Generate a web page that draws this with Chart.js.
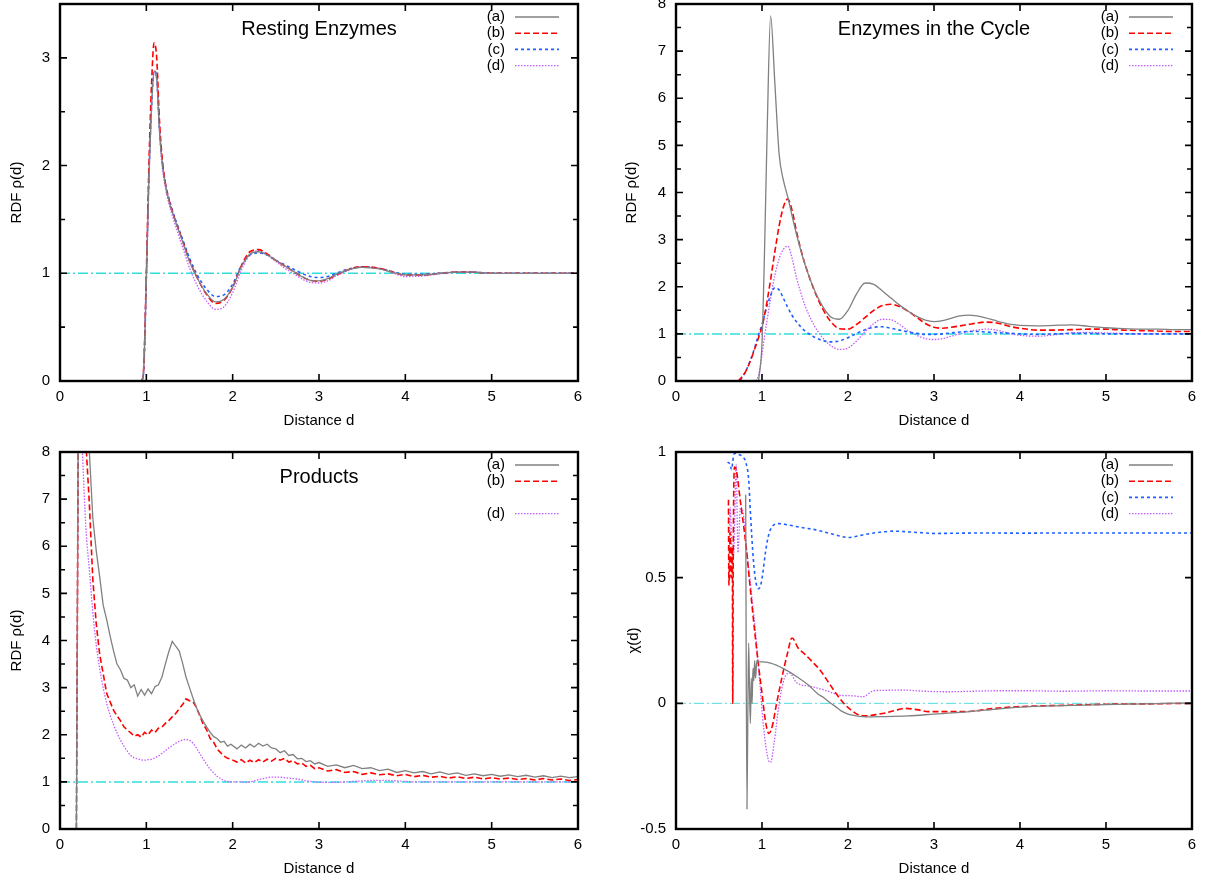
<!DOCTYPE html>
<html>
<head>
<meta charset="utf-8">
<script src="https://cdn.jsdelivr.net/npm/chart.js@4.4.1/dist/chart.umd.min.js"></script>
<style>
  body { margin: 0; background: #fff; }
  #wrap { position: relative; width: 1205px; height: 884px; }
  canvas { position: absolute; }
</style>
</head>
<body>
<div id="wrap">
  <canvas id="c1" width="602" height="442" style="left:0;top:0"></canvas>
  <canvas id="c2" width="603" height="442" style="left:602px;top:0"></canvas>
  <canvas id="c3" width="602" height="442" style="left:0;top:442px"></canvas>
  <canvas id="c4" width="603" height="442" style="left:602px;top:442px"></canvas>
</div>
<script>
// ---- data: resting enzymes (top left)
const restDist = [0.95, 0.97, 1.0, 1.03, 1.06, 1.09, 1.12, 1.15, 1.18, 1.22, 1.26, 1.3, 1.35, 1.4, 1.45, 1.5, 1.6, 1.7, 1.8, 1.9,
  2.0, 2.1, 2.2, 2.3, 2.4, 2.5, 2.6, 2.7, 2.8, 2.9, 3.0, 3.1, 3.2, 3.3, 3.4, 3.5, 3.6, 3.7, 3.8, 3.9,
  4.0, 4.2, 4.4, 4.6, 4.8, 5.0, 5.2, 5.4, 5.6, 5.8, 6.0];
const restA = [0, 0.12, 0.95, 1.9, 2.55, 2.88, 2.8, 2.35, 2.05, 1.82, 1.68, 1.57, 1.45, 1.34, 1.22, 1.11, 0.94, 0.81, 0.735, 0.76,
  0.87, 1.06, 1.18, 1.2, 1.17, 1.12, 1.07, 1.02, 0.97, 0.935, 0.93, 0.95, 0.99, 1.02, 1.045, 1.055, 1.05, 1.04, 1.02, 1.0,
  0.985, 0.985, 1.0, 1.01, 1.01, 1.0, 1.0, 1.0, 1.0, 1.0, 1.0];
const restB = [0, 0.13, 1.0, 2.0, 2.75, 3.14, 3.0, 2.45, 2.1, 1.84, 1.69, 1.58, 1.46, 1.35, 1.23, 1.12, 0.94, 0.8, 0.72, 0.75,
  0.87, 1.07, 1.2, 1.22, 1.18, 1.12, 1.07, 1.02, 0.97, 0.935, 0.925, 0.945, 0.985, 1.02, 1.05, 1.06, 1.055, 1.045, 1.025, 1.0,
  0.985, 0.985, 1.0, 1.012, 1.01, 1.0, 1.0, 1.0, 1.0, 1.0, 1.0];
const restC = [0, 0.1, 0.95, 1.9, 2.55, 2.88, 2.82, 2.38, 2.07, 1.84, 1.7, 1.59, 1.47, 1.36, 1.25, 1.14, 0.97, 0.85, 0.785, 0.8,
  0.9, 1.07, 1.17, 1.19, 1.17, 1.12, 1.08, 1.04, 1.0, 0.97, 0.96, 0.97, 1.0, 1.03, 1.05, 1.06, 1.055, 1.045, 1.025, 1.005,
  0.99, 0.99, 1.0, 1.01, 1.01, 1.0, 1.0, 1.0, 1.0, 1.0, 1.0];
const restD = [0, 0.1, 0.9, 1.85, 2.5, 2.85, 2.8, 2.35, 2.02, 1.8, 1.65, 1.54, 1.41, 1.29, 1.17, 1.05, 0.87, 0.74, 0.665, 0.69,
  0.82, 1.03, 1.17, 1.21, 1.17, 1.11, 1.05, 1.0, 0.95, 0.915, 0.91, 0.93, 0.975, 1.015, 1.045, 1.06, 1.06, 1.045, 1.02, 0.99,
  0.97, 0.975, 0.995, 1.01, 1.01, 1.0, 1.0, 1.0, 1.0, 1.0, 1.0];

// ---- data: enzymes in the cycle (top right)
const cycleDist = [0.72, 0.75, 0.8, 0.85, 0.9, 0.93, 0.96, 1.0, 1.03, 1.06, 1.1, 1.15, 1.2, 1.25, 1.3, 1.35, 1.4, 1.45, 1.5, 1.6,
  1.7, 1.8, 1.9, 2.0, 2.1, 2.2, 2.3, 2.4, 2.5, 2.6, 2.7, 2.8, 2.9, 3.0, 3.1, 3.2, 3.3, 3.4, 3.5, 3.6,
  3.7, 3.8, 3.9, 4.0, 4.2, 4.4, 4.6, 4.8, 5.0, 5.2, 5.4, 5.6, 5.8, 6.0];
const cycleA = [null, null, null, null, null, null, 0, 0.8, 2.8, 5.3, 7.75, 6.3, 4.8, 4.25, 3.9, 3.5, 3.12, 2.78, 2.47, 1.97,
  1.6, 1.36, 1.31, 1.5, 1.85, 2.08, 2.05, 1.91, 1.76, 1.61, 1.48, 1.37, 1.29, 1.26, 1.28, 1.33, 1.38, 1.4, 1.38, 1.34,
  1.29, 1.24, 1.2, 1.18, 1.17, 1.18, 1.19, 1.16, 1.13, 1.11, 1.1, 1.1, 1.09, 1.09];
const cycleB = [0, 0.05, 0.17, 0.36, 0.6, 0.76, 0.92, 1.15, 1.4, 1.7, 2.15, 2.75, 3.3, 3.7, 3.86, 3.62, 3.18, 2.8, 2.48, 1.96,
  1.55, 1.26, 1.11, 1.1, 1.2, 1.35, 1.5, 1.6, 1.63, 1.58, 1.48, 1.35, 1.22, 1.14, 1.12, 1.14, 1.17, 1.2, 1.23, 1.25,
  1.24, 1.2, 1.15, 1.12, 1.08, 1.08, 1.09, 1.1, 1.1, 1.08, 1.07, 1.06, 1.05, 1.05];
const cycleC = [null, 0.02, 0.17, 0.37, 0.62, 0.8, 0.98, 1.2, 1.4, 1.6, 1.82, 1.98, 1.93, 1.75, 1.56, 1.39, 1.26, 1.15, 1.06, 0.94,
  0.86, 0.83, 0.85, 0.92, 1.01, 1.09, 1.14, 1.15, 1.12, 1.08, 1.04, 1.01, 0.99, 0.99, 1.0, 1.02, 1.04, 1.05, 1.05, 1.04,
  1.03, 1.02, 1.01, 1.0, 0.99, 1.0, 1.01, 1.01, 1.0, 1.0, 1.0, 1.0, 1.0, 1.0];
const cycleD = [null, null, null, null, null, 0, 0.12, 0.55, 0.95, 1.3, 1.75, 2.25, 2.6, 2.8, 2.86, 2.6, 2.2, 1.88, 1.6, 1.2,
  0.93, 0.75, 0.67, 0.7, 0.85, 1.05, 1.22, 1.31, 1.3, 1.2, 1.07, 0.97, 0.9, 0.88, 0.9, 0.95, 1.0, 1.05, 1.08, 1.1,
  1.09, 1.05, 1.0, 0.97, 0.95, 0.98, 1.02, 1.03, 1.02, 1.01, 1.0, 1.0, 1.0, 1.0];

// ---- data: products (bottom left)
const prodDist = [0.19, 0.2, 0.22, 0.26,
  0.3, 0.34, 0.38, 0.42, 0.46, 0.5, 0.54, 0.58, 0.62, 0.66, 0.7, 0.74, 0.78, 0.82, 0.86, 0.9, 0.94, 0.98,
  1.02, 1.06, 1.1, 1.14, 1.18, 1.22, 1.26, 1.3, 1.34, 1.38, 1.42, 1.46, 1.5, 1.54, 1.58, 1.62, 1.66, 1.7,
  1.74, 1.78, 1.82, 1.86, 1.9, 1.94, 1.98,
  2.05, 2.1, 2.15, 2.2, 2.25, 2.3, 2.35, 2.4, 2.45, 2.5, 2.55, 2.6, 2.65, 2.7, 2.75, 2.8, 2.85, 2.9, 2.95, 3.0,
  3.1, 3.2, 3.3, 3.4, 3.5, 3.6, 3.7, 3.8, 3.9, 4.0, 4.1, 4.2, 4.3, 4.4, 4.5, 4.6, 4.7, 4.8, 4.9, 5.0,
  5.1, 5.2, 5.3, 5.4, 5.5, 5.6, 5.7, 5.8, 5.9, 6.0];
const prodA = [0, 4, 12, 12,
  11, 8.0, 6.6, 5.9, 5.35, 4.75, 4.45, 4.1, 3.78, 3.5, 3.38, 3.2, 3.16, 3.0, 3.06, 2.82, 2.96, 2.84,
  2.97, 2.87, 3.02, 3.06, 3.22, 3.5, 3.76, 3.98, 3.88, 3.78, 3.52, 3.22, 3.0, 2.78, 2.58, 2.42, 2.28, 2.16,
  2.05, 1.96, 1.92, 1.84, 1.86, 1.76, 1.8,
  1.7, 1.78, 1.72, 1.8, 1.74, 1.82, 1.76, 1.8, 1.72, 1.7, 1.62, 1.66, 1.56, 1.58, 1.49, 1.5, 1.43, 1.45, 1.38, 1.41,
  1.33, 1.36, 1.3, 1.35, 1.28, 1.3, 1.24, 1.27, 1.2, 1.24, 1.19, 1.22, 1.17, 1.21, 1.16, 1.19, 1.14, 1.17, 1.13, 1.16,
  1.12, 1.15, 1.11, 1.14, 1.1, 1.13, 1.09, 1.12, 1.09, 1.11];
const prodB = [0, 4, 12, 12,
  8.2, 6.9, 5.3, 4.35, 3.7, 3.3, 2.88, 2.7, 2.52, 2.4, 2.3, 2.17, 2.1, 2.04, 1.97, 2.0, 1.95, 2.05,
  2.0, 2.1, 2.05, 2.14, 2.16, 2.24, 2.3, 2.38, 2.45, 2.55, 2.64, 2.76, 2.72, 2.7, 2.58, 2.4, 2.22, 2.1,
  1.92, 1.84, 1.7, 1.62, 1.55, 1.5, 1.48,
  1.42, 1.47, 1.4, 1.46, 1.41, 1.47, 1.42, 1.48, 1.44, 1.5, 1.46, 1.5, 1.42, 1.45, 1.38, 1.4, 1.33, 1.35, 1.28, 1.3,
  1.23, 1.26, 1.2, 1.22, 1.16, 1.19, 1.15, 1.17, 1.13, 1.16, 1.11, 1.14, 1.1, 1.12, 1.08, 1.11, 1.07, 1.1, 1.06, 1.09,
  1.06, 1.08, 1.05, 1.07, 1.04, 1.07, 1.04, 1.06, 1.03, 1.05];
const prodD = [0, 4, 10, 8.0,
  6.4, 5.5, 4.6, 3.9, 3.4, 3.0, 2.67, 2.42, 2.22, 2.04, 1.89, 1.76, 1.65, 1.56, 1.51, 1.49, 1.47, 1.46,
  1.47, 1.48, 1.51, 1.55, 1.6, 1.66, 1.72, 1.77, 1.82, 1.86, 1.89, 1.9, 1.88, 1.82, 1.72, 1.6, 1.48, 1.37,
  1.27, 1.19, 1.12, 1.07, 1.03, 1.01, 1.0,
  1.0, 1.0, 0.99, 1.0, 1.02, 1.05, 1.07, 1.09, 1.1, 1.1, 1.1, 1.09, 1.08, 1.07, 1.06, 1.04, 1.02, 1.01, 1.0, 0.99,
  0.99, 0.99, 1.0, 1.01, 1.02, 1.03, 1.03, 1.03, 1.02, 1.01, 1.0, 1.0, 1.0, 1.0, 1.0, 1.0, 1.0, 1.0, 1.0, 1.0,
  1.0, 1.0, 1.0, 1.0, 1.0, 1.0, 1.0, 1.0, 1.0, 1.0];

// ---- data: chi(d) (bottom right), each curve has its own sampling
const chiAx = [0.81, 0.825, 0.835, 0.845, 0.855, 0.865, 0.875, 0.885, 0.895, 0.905, 0.915, 0.925, 0.94, 0.96, 1.0, 1.1, 1.25, 1.41, 1.55, 1.64,
  1.72, 1.8, 1.86, 1.92, 2.0, 2.1, 2.2, 2.4, 2.7, 3.0, 3.3, 3.6, 4.0, 4.5, 5.0, 5.5, 6.0];
const chiAy = [0.83, -0.42, -0.05, 0.24, 0.05, -0.08, 0.1, 0.0, 0.14, 0.09, 0.17, 0.1, 0.17, 0.165, 0.165, 0.16, 0.138, 0.105, 0.07, 0.04,
  0.022, 0.0, -0.014, -0.03, -0.043, -0.05, -0.054, -0.053, -0.05, -0.043, -0.036, -0.027, -0.015, -0.009, -0.005, -0.002, 0.002];
const chiBx = [0.61, 0.615, 0.63, 0.64, 0.655, 0.66, 0.665, 0.68, 0.7, 0.75, 0.81, 0.86, 0.92, 0.96, 1.0, 1.04, 1.08, 1.12, 1.17, 1.23,
  1.29, 1.35, 1.42, 1.5, 1.6, 1.68, 1.78, 1.86, 1.95, 2.03, 2.12, 2.21, 2.32, 2.44, 2.55, 2.66, 2.8, 2.93, 3.1, 3.37,
  3.7, 4.0, 4.5, 4.94, 5.5, 6.0];
const chiBy = [0.81, 0.47, 0.68, 0.5, 0.62, 0.0, 0.55, 0.94, 0.93, 0.8, 0.64, 0.47, 0.27, 0.15, 0.04, -0.07, -0.12, -0.09, 0.0, 0.1,
  0.19, 0.26, 0.22, 0.195, 0.16, 0.13, 0.08, 0.04, 0.0, -0.025, -0.045, -0.05, -0.045, -0.038, -0.028, -0.02, -0.025, -0.033, -0.033, -0.033,
  -0.02, -0.013, -0.008, -0.004, -0.002, 0.0];
const chiCx = [0.6, 0.63, 0.645, 0.66, 0.67, 0.7, 0.73, 0.78, 0.81, 0.845, 0.865, 0.9, 0.93, 0.96, 0.985, 1.01, 1.04, 1.07, 1.12, 1.2,
  1.3, 1.45, 1.63, 1.8, 2.01, 2.17, 2.35, 2.53, 2.8, 3.02, 3.3, 3.6, 4.0, 4.5, 5.0, 5.5, 6.0];
const chiCy = [0.96, 0.95, 0.93, 0.96, 0.99, 0.995, 0.99, 0.98, 0.96, 0.89, 0.76, 0.57, 0.48, 0.456, 0.47, 0.52, 0.6, 0.66, 0.705, 0.715,
  0.71, 0.7, 0.69, 0.675, 0.66, 0.67, 0.68, 0.685, 0.68, 0.676, 0.677, 0.678, 0.677, 0.678, 0.678, 0.678, 0.678];
const chiDx = [0.62, 0.63, 0.65, 0.67, 0.7, 0.72, 0.75, 0.78, 0.82, 0.87, 0.92, 0.97, 1.02, 1.07, 1.1, 1.14, 1.2, 1.26, 1.32, 1.41,
  1.56, 1.75, 1.91, 2.05, 2.17, 2.3, 2.45, 2.62, 2.9, 3.15, 3.45, 3.73, 4.1, 4.5, 5.0, 5.5, 6.0];
const chiDy = [0.6, 0.78, 0.62, 0.59, 0.95, 0.6, 0.78, 0.76, 0.62, 0.46, 0.3, 0.1, -0.1, -0.22, -0.235, -0.16, 0.0, 0.1, 0.12, 0.08,
  0.068, 0.05, 0.032, 0.03, 0.026, 0.05, 0.052, 0.053, 0.048, 0.046, 0.048, 0.05, 0.05, 0.048, 0.05, 0.049, 0.049];

// reference lines
const refX = [0, 6];
const refOne = [1, 1];
const refZero = [0, 0];

const FONT = '"Liberation Sans", Arial, Helvetica, sans-serif';

const STYLE = {
  a: { borderColor: '#808080', borderWidth: 1.3, borderDash: [] },
  b: { borderColor: '#ff0000', borderWidth: 1.6, borderDash: [6, 3] },
  c: { borderColor: '#1f5fff', borderWidth: 1.6, borderDash: [3, 3] },
  d: { borderColor: '#c35cff', borderWidth: 1.3, borderDash: [1.5, 1.5] },
};

const pts = (xs, ys) => xs.map((x, i) => ({ x, y: ys[i] }));

const series = (key, xs, ys, smooth = true) => ({
  label: '(' + key + ')',
  key,
  data: pts(xs, ys),
  ...STYLE[key],
  fill: false,
  pointRadius: 0,
  cubicInterpolationMode: smooth ? 'monotone' : 'default',
  tension: 0,
});

const refLine = (ys, width, color) => ({
  label: '',
  data: pts(refX, ys),
  borderColor: color,
  borderWidth: width,
  borderDash: [10, 3, 2, 3],
  pointRadius: 0,
  fill: false,
});

// frame, inward ticks, titles and the key, gnuplot style
const gnuFrame = {
  id: 'gnuFrame',
  afterDraw(chart, args, o) {
    const { ctx, chartArea: a, scales: { x, y } } = chart;
    ctx.save();
    ctx.strokeStyle = '#000';
    ctx.lineWidth = 1.6;
    ctx.setLineDash([]);
    ctx.beginPath();
    x.ticks.forEach((t) => {
      const px = x.getPixelForValue(t.value);
      if (px <= a.left + 1 || px >= a.right - 1) return;
      ctx.moveTo(px, a.bottom); ctx.lineTo(px, a.bottom - 7);
      ctx.moveTo(px, a.top); ctx.lineTo(px, a.top + 7);
    });
    y.ticks.forEach((t) => {
      const py = y.getPixelForValue(t.value);
      if (py <= a.top + 1 || py >= a.bottom - 1) return;
      const len = t.label !== '' ? 7 : 5;
      ctx.moveTo(a.left, py); ctx.lineTo(a.left + len, py);
      ctx.moveTo(a.right, py); ctx.lineTo(a.right - len, py);
    });
    ctx.stroke();

    ctx.lineWidth = 2.4;
    ctx.strokeRect(a.left, a.top, a.right - a.left, a.bottom - a.top);

    ctx.fillStyle = '#000';
    const cx = (a.left + a.right) / 2;
    const cy = (a.top + a.bottom) / 2;
    if (o.title) {
      ctx.font = '20px ' + FONT;
      ctx.textAlign = 'center';
      ctx.textBaseline = 'middle';
      ctx.fillText(o.title, cx, a.top + 25);
    }
    ctx.font = '15px ' + FONT;
    ctx.textAlign = 'center';
    ctx.textBaseline = 'middle';
    ctx.fillText('Distance d', cx, a.bottom + 40);
    ctx.save();
    ctx.translate(o.yTitleX, cy);
    ctx.rotate(-Math.PI / 2);
    ctx.fillText(o.yTitle, 0, 0);
    ctx.restore();

    // key
    const rows = { a: 0, b: 1, c: 2, d: 3 };
    chart.data.datasets.forEach((ds) => {
      if (!ds.key) return;
      const ry = a.top + 13 + rows[ds.key] * 16.2;
      ctx.textAlign = 'right';
      ctx.fillStyle = '#000';
      ctx.fillText(ds.label, a.right - 73, ry);
      ctx.strokeStyle = ds.borderColor;
      ctx.lineWidth = ds.borderWidth;
      ctx.setLineDash(ds.borderDash);
      ctx.beginPath();
      ctx.moveTo(a.right - 63, ry);
      ctx.lineTo(a.right - 19, ry);
      ctx.stroke();
    });
    ctx.restore();
  },
};

function makePanel(id, area, yMin, yMax, yLabel, datasets, extra) {
  const cv = document.getElementById(id);
  const W = cv.width, H = cv.height;
  return new Chart(cv, {
    type: 'line',
    data: { datasets },
    plugins: [gnuFrame],
    options: {
      responsive: false,
      animation: false,
      events: [],
      layout: { padding: { left: 0, right: W - area.right, top: area.top, bottom: 0 } },
      plugins: {
        legend: { display: false },
        tooltip: { enabled: false },
        gnuFrame: extra,
      },
      scales: {
        x: {
          type: 'linear', min: 0, max: 6,
          grid: { display: false, drawTicks: false },
          border: { display: false },
          ticks: { stepSize: 1, padding: 7, color: '#000', font: { family: FONT, size: 15 }, maxRotation: 0 },
          afterFit(s) { s.height = H - area.bottom; s.paddingLeft = 0; s.paddingRight = 0; },
        },
        y: {
          type: 'linear', min: yMin, max: yMax,
          grid: { display: false, drawTicks: false },
          border: { display: false },
          ticks: { stepSize: 0.5, padding: 10, color: '#000', autoSkip: false, font: { family: FONT, size: 15 }, callback: yLabel },
          afterFit(s) { s.width = area.left; s.paddingTop = 0; s.paddingBottom = 0; },
        },
      },
    },
  });
}

const intLabel = (v) => (Number.isInteger(v) ? String(v) : '');
const allLabel = (v) => String(v);

makePanel('c1', { left: 60, right: 578, top: 4, bottom: 381 }, 0, 3.5, intLabel, [
  series('a', restDist, restA),
  series('b', restDist, restB),
  series('c', restDist, restC),
  series('d', restDist, restD),
  refLine(refOne, 1.5, '#33dddd'),
], { title: 'Resting Enzymes', yTitle: 'RDF ρ(d)', yTitleX: 17 });

makePanel('c2', { left: 74, right: 590, top: 4, bottom: 381 }, 0, 8, intLabel, [
  series('a', cycleDist, cycleA),
  series('b', cycleDist, cycleB),
  series('c', cycleDist, cycleC),
  series('d', cycleDist, cycleD),
  refLine(refOne, 1.5, '#33dddd'),
], { title: 'Enzymes in the Cycle', yTitle: 'RDF ρ(d)', yTitleX: 30 });

makePanel('c3', { left: 60, right: 578, top: 10, bottom: 387 }, 0, 8, intLabel, [
  series('a', prodDist, prodA, false),
  series('b', prodDist, prodB, false),
  series('d', prodDist, prodD),
  refLine(refOne, 1.5, '#33dddd'),
], { title: 'Products', yTitle: 'RDF ρ(d)', yTitleX: 17 });

makePanel('c4', { left: 74, right: 590, top: 10, bottom: 387 }, -0.5, 1, allLabel, [
  series('a', chiAx, chiAy),
  series('b', chiBx, chiBy),
  series('c', chiCx, chiCy),
  series('d', chiDx, chiDy),
  refLine(refZero, 1, '#55dddd'),
], { title: '', yTitle: 'χ(d)', yTitleX: 32 });
</script>
</body>
</html>
